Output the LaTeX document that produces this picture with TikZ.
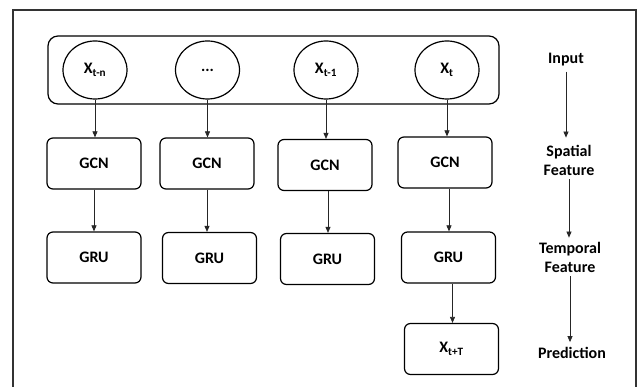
\documentclass[tikz,border=0pt]{standalone}
\usepackage{fontspec}
\setmainfont{Carlito}
\usetikzlibrary{arrows.meta,positioning,shapes.geometric}

\tikzset{
  txt/.style={font=\fontsize{16}{19}\selectfont\bfseries},
  box/.style={txt,draw,line width=1.2pt,rounded corners=6pt,minimum width=94pt,minimum height=51pt},
  inp/.style={txt,draw,line width=1.2pt,ellipse,minimum width=64pt,minimum height=58pt,inner sep=0pt},
  lbl/.style={txt,align=center,inner sep=0pt},
  arr/.style={-{Triangle[length=6pt,width=5pt]},line width=0.7pt,black!85}
}

\begin{document}
\begin{tikzpicture}[x=1pt,y=-1pt]
\useasboundingbox (0,0) rectangle (637,387);
% frame
\draw[line width=1.2pt,black!80] (13,387) |- (636,10) -- (636,387);

% input row
\node[draw,line width=1.2pt,rounded corners=10pt,minimum width=451pt,minimum height=68pt] (inputs) at (273.5,70) {};
\node[inp] (xtn) at (95,70) {X\textsubscript{t-n}};
\node[inp] (xdots) at (207.5,70) {...};
\node[inp] (xt1) at (326,70) {X\textsubscript{t-1}};
\node[inp] (xt) at (447,70) {X\textsubscript{t}};

% GCN
\node[box] (gcn1) at (94,163.5) {GCN};
\node[box] (gcn2) at (207,163.5) {GCN};
\node[box] (gcn3) at (325,165) {GCN};
\node[box] (gcn4) at (445,162.5) {GCN};

% GRU
\node[box] (gru1) at (94,257.5) {GRU};
\node[box] (gru2) at (209.5,258) {GRU};
\node[box] (gru3) at (327.5,259) {GRU};
\node[box] (gru4) at (448.5,257.5) {GRU};

% prediction
\node[box] (xtT) at (451.5,349) {X\textsubscript{t+T}};

\draw[arr] (xtn.south) -- (xtn.south |- gcn1.north);
\draw[arr] (xdots.south) -- (xdots.south |- gcn2.north);
\draw[arr] (xt1.south) -- (xt1.south |- gcn3.north);
\draw[arr] (xt.south) -- (xt.south |- gcn4.north);
\draw[arr] (gcn1.south) -- (gcn1.south |- gru1.north);
\draw[arr] (gcn2.south) -- (gcn2.south |- gru2.north);
\draw[arr] ([xshift=3pt]gcn3.south) -- ([xshift=3pt]gcn3.south |- gru3.north);
\draw[arr] ([xshift=4pt]gcn4.south) -- ([xshift=4pt]gcn4.south |- gru4.north);
\draw[arr] ([xshift=4pt]gru4.south) -- ([xshift=4pt]gru4.south |- xtT.north);

% stages
\node[lbl] (input) at (566,60) {Input};
\node[lbl] (spatial) at (569,160) {Spatial\\Feature};
\node[lbl] (temporal) at (570,257) {Temporal\\Feature};
\node[lbl] (pred) at (572,353) {Prediction};
\draw[arr,shorten <=5pt,shorten >=7pt] (input.south) -- (input.south |- spatial.north);
\draw[arr,shorten <=4pt,shorten >=4pt] (spatial.south) -- (spatial.south |- temporal.north);
\draw[arr,shorten <=4pt,shorten >=5pt] (temporal.south) -- (temporal.south |- pred.north);
\end{tikzpicture}
\end{document}
